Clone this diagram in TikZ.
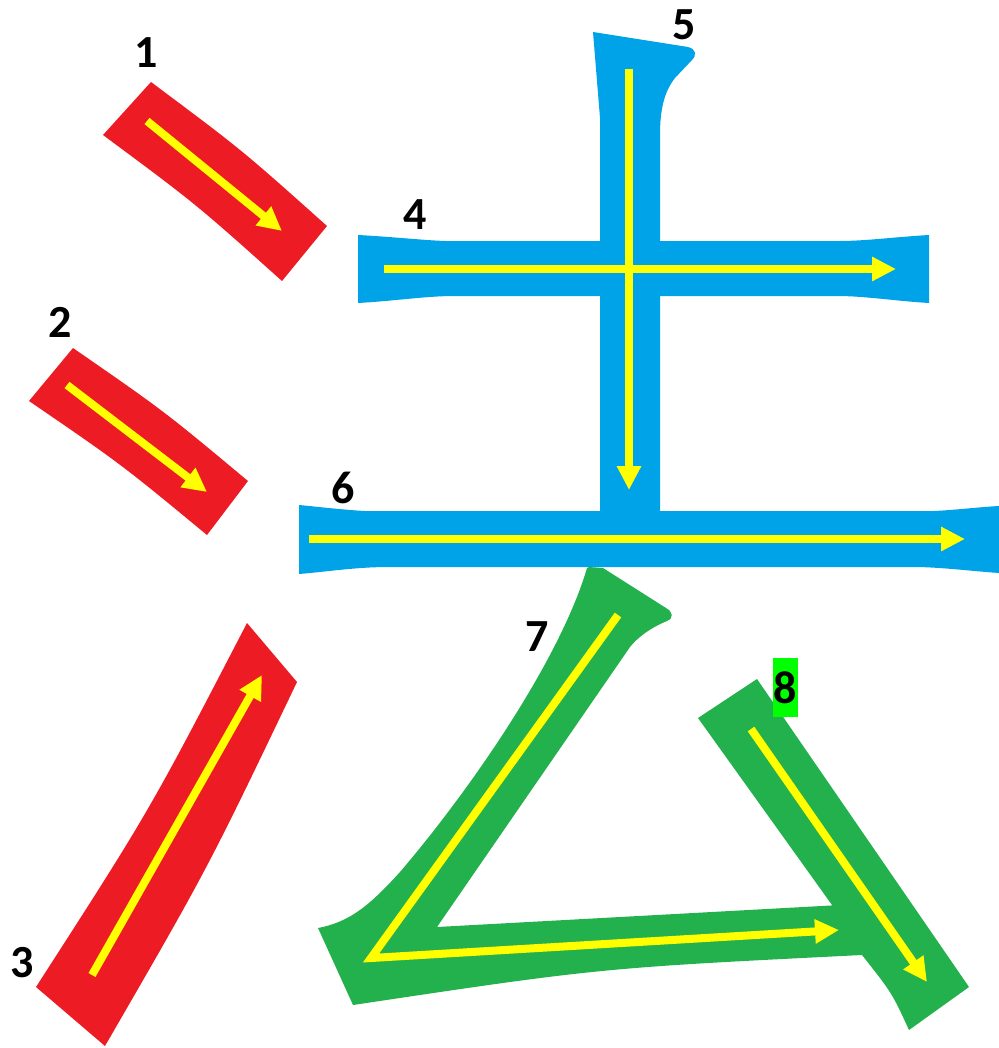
\documentclass[tikz,border=0pt]{standalone}
\usepackage{fontspec}
\setmainfont{Carlito}
\usepackage{tikz}
\usetikzlibrary{arrows.meta}
\usepackage{xcolor}
\definecolor{inkred}{HTML}{ED1C24}
\definecolor{inkblue}{HTML}{00A2E8}
\definecolor{inkgreen}{HTML}{22B14C}
\definecolor{orderyellow}{HTML}{FFFF00}
\definecolor{marker}{HTML}{00FF00}

\begin{document}
\begin{tikzpicture}[x=0.5pt, y=-0.5pt,
  redpart/.style={fill=inkred},
  bluepart/.style={fill=inkblue},
  greenpart/.style={fill=inkgreen},
  order/.style={draw=orderyellow, line width=4pt, line join=miter, -{Triangle[length=12pt, width=11.5pt]}},
  num/.style={font=\fontsize{23}{28}\selectfont\bfseries, inner sep=0pt}]

  \useasboundingbox (0,0) rectangle (999,1048);

  % Strokes of the character

  \fill[redpart] (151,82) .. controls (242,150) .. (327,226) -- (282,281) .. controls (196,204) .. (103,135) -- cycle;
  \fill[redpart] (73,348) .. controls (164,411) .. (248,481) -- (207,535) .. controls (121,464) .. (29,401) -- cycle;
  \fill[redpart] (247,623) -- (297,682) .. controls (208,868) .. (105,1046) -- (36,987) .. controls (150,810) .. (247,623) -- cycle;

  \fill[bluepart] (358,235) .. controls (395,237) and (420,240) .. (445,241) -- (840,241)
    .. controls (865,241) and (895,237) .. (929,235) -- (929,303)
    .. controls (895,301) and (865,296) .. (837,296) -- (455,296)
    .. controls (425,296) and (395,301) .. (358,303) -- cycle;
  \fill[bluepart] (593,32) -- (688,47) .. controls (696,49) and (697,55) .. (692,60) -- (675,78)
    .. controls (664,92) and (660,110) .. (660,135) -- (660,540) -- (600,540) -- (600,118) -- cycle;
  \fill[bluepart] (299,505) .. controls (320,507) and (345,510) .. (365,511) -- (934,511)
    .. controls (955,510) and (980,507) .. (999,506) -- (999,573)
    .. controls (970,571) and (940,567) .. (913,567) -- (389,567)
    .. controls (355,567) and (325,572) .. (299,574) -- cycle;

  \fill[greenpart] (589,567) -- (603,568) -- (666,608) .. controls (673,612) and (674,618) .. (667,621)
    .. controls (650,628) and (637,638) .. (630,647) -- (437,927) -- (840,905) -- (862,955)
    .. controls (600,968) .. (353,1005) -- (318,928)
    .. controls (350,922) and (370,905) .. (400,872)
    .. controls (470,790) and (560,660) .. (587,568) -- cycle;
  \fill[greenpart] (698,718) -- (757,679) -- (969,987) -- (909,1030) .. controls (892,993) .. (862,955)
    -- (832,905) -- cycle;

  % Define nodes

  \node[num] (n1) at (146,53) {1};
  \node[num] (n2) at (60,322) {2};
  \node[num] (n3) at (22,963) {3};
  \node[num] (n4) at (415,215) {4};
  \node[num] (n5) at (684,25) {5};
  \node[num] (n6) at (343,488) {6};
  \node[num] (n7) at (537,637) {7};
  \node[num, fill=marker, minimum width=12.5pt, minimum height=29.5pt] (n8) at (785.5,687.5) {8};

  \coordinate (s1) at (147,121);  \coordinate (e1) at (282,231);
  \coordinate (s2) at (67,385);   \coordinate (e2) at (207,492);
  \coordinate (s3) at (92,975);   \coordinate (e3) at (262,675);
  \coordinate (s4) at (384,269);  \coordinate (e4) at (896,269);
  \coordinate (s5) at (629,69);   \coordinate (e5) at (629,490);
  \coordinate (s6) at (309,539);  \coordinate (e6) at (965,539);
  \coordinate (s7) at (618,615);  \coordinate (c7) at (371,958);  \coordinate (e7) at (839,930);
  \coordinate (s8) at (751,729);  \coordinate (e8) at (927,982);

  % Draw arrows
  \draw[order] (s1) -- (e1);
  \draw[order] (s2) -- (e2);
  \draw[order] (s3) -- (e3);
  \draw[order] (s4) -- (e4);
  \draw[order] (s5) -- (e5);
  \draw[order] (s6) -- (e6);
  \draw[order] (s7) -- (c7) -- (e7);
  \draw[order] (s8) -- (e8);
\end{tikzpicture}
\end{document}
